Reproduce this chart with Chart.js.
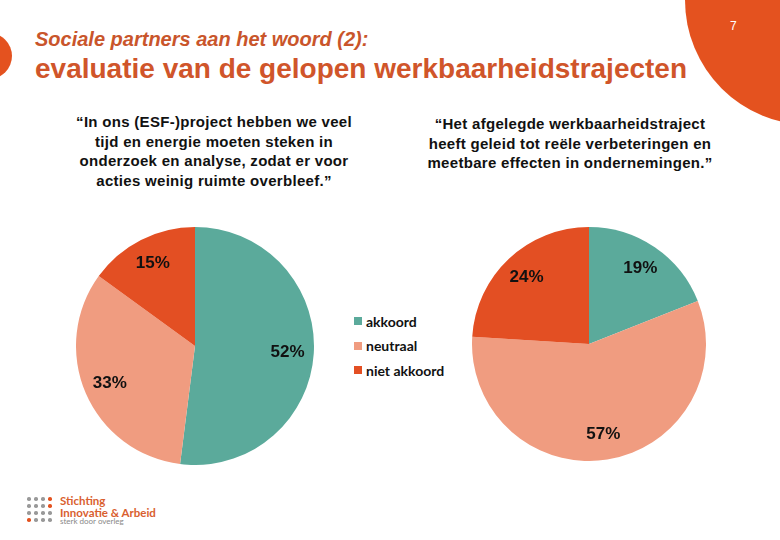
<!DOCTYPE html>
<html>
<head>
<meta charset="utf-8">
<script src="https://cdn.jsdelivr.net/npm/chart.js@4.4.1/dist/chart.umd.min.js"></script>
<style>
  html, body { margin: 0; padding: 0; }
  body { width: 780px; height: 540px; position: relative; overflow: hidden; background: #fff;
         font-family: "Liberation Sans", Arial, sans-serif; }
  .blob-tr { position: absolute; left: 685px; top: -125px; width: 250px; height: 250px;
             border-radius: 50%; background: #E4521F; }
  .blob-l { position: absolute; left: -34px; top: 33px; width: 46px; height: 46px;
            border-radius: 50%; background: #E4521F; }
  .pagenr { position: absolute; left: 730px; top: 19px; color: #fff; font-size: 12px; }
  .kop1 { position: absolute; left: 35px; top: 28px; font-size: 20px; font-style: italic; font-weight: bold;
          color: #C9552B; }
  .kop2 { position: absolute; left: 35px; top: 53px; font-size: 28px; font-weight: bold; color: #D0552A; }
  .quote { position: absolute; font-size: 15px; font-weight: bold; letter-spacing: 0.3px;
           line-height: 19.5px; text-align: center; color: #111; }
  #q1 { left: 34px; top: 112px; width: 360px; }
  #q2 { left: 390px; top: 114px; width: 360px; }
  .pie { position: absolute; }
  #wrap1 { left: 76px; top: 227px; width: 238px; height: 238px; }
  #wrap2 { left: 472px; top: 227px; width: 234px; height: 234px; }
  .legend { position: absolute; left: 354px; top: 309px; font-family: Lato, "Open Sans", sans-serif;
            font-weight: bold; font-size: 14px; color: #111; }
  .legend div { height: 24.5px; display: flex; align-items: center; }
  .legend span.box { display: inline-block; width: 8px; height: 8px; margin-right: 4px; }
  .logo { position: absolute; left: 25px; top: 495px; }
  .dot { position: absolute; width: 3.5px; height: 3.5px; border-radius: 50%; }
  .logo-t { position: absolute; left: 60px; top: 495px; font-family: Lato, "Open Sans", sans-serif;
            color: #D9602F; font-weight: bold; font-size: 11.5px; line-height: 12px; }
  .logo-s { position: absolute; left: 60px; top: 516px; font-family: Lato, sans-serif;
            color: #888; font-size: 8px; }
</style>
</head>
<body>
<div class="blob-tr"></div>
<div class="blob-l"></div>
<div class="pagenr">7</div>
<div class="kop1">Sociale partners aan het woord (2):</div>
<div class="kop2">evaluatie van de gelopen werkbaarheidstrajecten</div>

<div class="quote" id="q1">“In ons (ESF-)project hebben we veel<br>tijd en energie moeten steken in<br>onderzoek en analyse, zodat er voor<br>acties weinig ruimte overbleef.”</div>
<div class="quote" id="q2">“Het afgelegde werkbaarheidstraject<br>heeft geleid tot reële verbeteringen en<br>meetbare effecten in ondernemingen.”</div>

<div class="pie" id="wrap1"><canvas id="pie1"></canvas></div>
<div class="pie" id="wrap2"><canvas id="pie2"></canvas></div>
<div class="legend" id="legend"></div>

<div class="logo" id="logo"></div>
<div class="logo-t">Stichting<br>Innovatie &amp; Arbeid</div>
<div class="logo-s">sterk door overleg</div>

<script>
// categorieen
const categorieen = ["akkoord", "neutraal", "niet akkoord"];
const kleuren = ["#5BAA9B", "#F09C80", "#E34F23"];

// percentages per uitspraak
const waardenProject = [52, 33, 15];
const waardenTraject = [19, 57, 24];

// labels in de taartpunten
const labelPlugin = {
  id: "pctLabels",
  afterDatasetsDraw(chart) {
    const c = chart.ctx;
    const meta = chart.getDatasetMeta(0);
    c.save();
    c.font = "bold 17px 'Liberation Sans', Arial, sans-serif";
    c.fillStyle = "#111";
    c.textAlign = "center";
    c.textBaseline = "middle";
    meta.data.forEach((arc, i) => {
      const mid = (arc.startAngle + arc.endAngle) / 2;
      const r = arc.outerRadius * 0.78;
      c.fillText(chart.data.datasets[0].data[i] + "%", arc.x + Math.cos(mid) * r, arc.y + Math.sin(mid) * r);
    });
    c.restore();
  }
};

function maakTaart(id, waarden) {
  return new Chart(document.getElementById(id), {
    type: "pie",
    data: {
      labels: categorieen,
      datasets: [{
        data: waarden,
        backgroundColor: kleuren,
        borderWidth: 0
      }]
    },
    options: {
      responsive: true,
      maintainAspectRatio: false,
      animation: false,
      layout: { padding: 0 },
      plugins: {
        legend: { display: false },
        tooltip: { enabled: false }
      }
    },
    plugins: [labelPlugin]
  });
}

maakTaart("pie1", waardenProject);
maakTaart("pie2", waardenTraject);

// legenda
const legend = document.getElementById("legend");
categorieen.forEach((naam, i) => {
  const rij = document.createElement("div");
  rij.innerHTML = `<span class="box" style="background:${kleuren[i]}"></span>${naam}`;
  legend.appendChild(rij);
});

// logo puntjes
const puntKleuren = [
  ["#999", "#999", "#999", "#E4521F"],
  ["#999", "#999", "#999", "#E4521F"],
  ["#999", "#999", "#999", "#999"],
  ["#E4521F", "#999", "#999", "#999"]
];
const logo = document.getElementById("logo");
puntKleuren.forEach((rij, r) => {
  rij.forEach((k, col) => {
    const d = document.createElement("div");
    d.className = "dot";
    d.style.left = (col * 7 + 2) + "px";
    d.style.top = (r * 7 + 2) + "px";
    d.style.background = k;
    logo.appendChild(d);
  });
});
</script>
</body>
</html>
